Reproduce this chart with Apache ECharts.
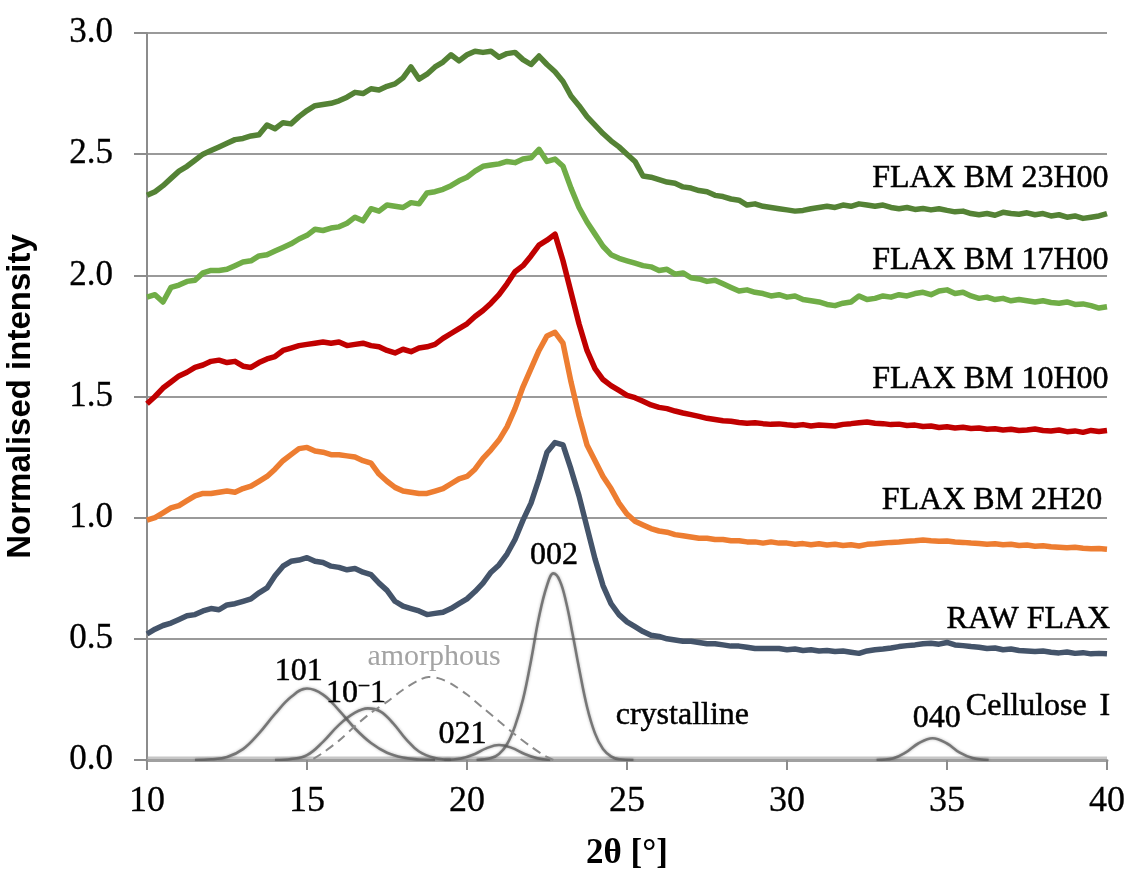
<!DOCTYPE html>
<html>
<head>
<meta charset="utf-8">
<script src="https://cdn.jsdelivr.net/npm/echarts@6/dist/echarts.min.js"></script>
<style>html,body{margin:0;padding:0;background:#fff;}#chart{width:1130px;height:869px;}</style>
</head>
<body>
<div id="chart"></div>
<script>
// ---- DATA ----
const twoTheta = [10,10.25,10.5,10.75,11,11.25,11.5,11.75,12,12.25,12.5,12.75,13,13.25,13.5,13.75,14,14.25,14.5,14.75,
15,15.25,15.5,15.75,16,16.25,16.5,16.75,17,17.25,17.5,17.75,18,18.25,18.5,18.75,19,19.25,19.5,19.75,
20,20.25,20.5,20.75,21,21.25,21.5,21.75,22,22.25,22.5,22.75,23,23.25,23.5,23.75,24,24.25,24.5,24.75,
25,25.25,25.5,25.75,26,26.25,26.5,26.75,27,27.25,27.5,27.75,28,28.25,28.5,28.75,29,29.25,29.5,29.75,
30,30.25,30.5,30.75,31,31.25,31.5,31.75,32,32.25,32.5,32.75,33,33.25,33.5,33.75,34,34.25,34.5,34.75,
35,35.25,35.5,35.75,36,36.25,36.5,36.75,37,37.25,37.5,37.75,38,38.25,38.5,38.75,39,39.25,39.5,39.75,40];

const rawFlax = [0.52,0.54,0.555,0.565,0.58,0.595,0.60,0.615,0.625,0.62,0.64,0.645,0.655,0.665,0.69,0.71,0.76,0.80,0.82,0.825,
0.835,0.82,0.815,0.80,0.795,0.785,0.79,0.775,0.765,0.73,0.70,0.655,0.635,0.625,0.615,0.60,0.605,0.61,0.625,0.645,
0.665,0.695,0.73,0.775,0.805,0.85,0.91,0.99,1.06,1.16,1.27,1.31,1.30,1.20,1.09,0.96,0.83,0.72,0.645,0.60,
0.57,0.55,0.53,0.515,0.51,0.50,0.495,0.49,0.49,0.485,0.48,0.48,0.475,0.47,0.47,0.465,0.46,0.46,0.46,0.46,
0.455,0.458,0.452,0.455,0.45,0.452,0.448,0.45,0.445,0.44,0.45,0.455,0.458,0.462,0.468,0.472,0.475,0.48,0.482,0.478,
0.485,0.475,0.472,0.468,0.465,0.46,0.462,0.455,0.458,0.452,0.45,0.448,0.45,0.445,0.442,0.446,0.44,0.443,0.438,0.44,0.438];

const bm2h20 = [0.99,1.00,1.02,1.04,1.05,1.07,1.09,1.10,1.10,1.105,1.11,1.105,1.12,1.13,1.15,1.17,1.20,1.235,1.26,1.285,
1.29,1.275,1.27,1.26,1.26,1.255,1.25,1.235,1.225,1.18,1.15,1.125,1.11,1.105,1.10,1.10,1.11,1.12,1.14,1.16,
1.17,1.20,1.245,1.28,1.32,1.375,1.45,1.54,1.615,1.69,1.75,1.765,1.72,1.56,1.42,1.30,1.235,1.17,1.12,1.06,
1.015,0.985,0.97,0.955,0.945,0.94,0.93,0.925,0.92,0.915,0.915,0.91,0.91,0.905,0.905,0.90,0.90,0.895,0.90,0.895,
0.895,0.89,0.893,0.888,0.892,0.887,0.89,0.885,0.888,0.883,0.89,0.892,0.895,0.898,0.90,0.903,0.905,0.908,0.905,0.903,
0.904,0.90,0.898,0.895,0.893,0.89,0.892,0.888,0.89,0.885,0.887,0.882,0.884,0.88,0.878,0.876,0.878,0.874,0.872,0.873,0.87];

const bm10h00 = [1.47,1.50,1.535,1.56,1.585,1.60,1.62,1.63,1.645,1.65,1.64,1.645,1.625,1.62,1.64,1.655,1.665,1.69,1.70,1.71,
1.715,1.72,1.725,1.72,1.725,1.71,1.715,1.72,1.71,1.705,1.69,1.68,1.695,1.685,1.70,1.705,1.715,1.74,1.76,1.78,
1.80,1.83,1.855,1.885,1.92,1.965,2.015,2.04,2.08,2.125,2.145,2.17,2.06,1.93,1.80,1.69,1.615,1.57,1.545,1.525,
1.505,1.495,1.48,1.465,1.455,1.45,1.44,1.432,1.425,1.418,1.41,1.405,1.40,1.398,1.393,1.39,1.392,1.388,1.385,1.387,
1.383,1.38,1.384,1.378,1.382,1.38,1.378,1.385,1.388,1.392,1.395,1.39,1.388,1.384,1.386,1.38,1.382,1.376,1.378,1.372,
1.375,1.37,1.373,1.368,1.37,1.365,1.367,1.362,1.365,1.36,1.362,1.366,1.36,1.358,1.362,1.355,1.358,1.352,1.36,1.356,1.36];

const bm17h00 = [1.91,1.92,1.89,1.95,1.96,1.975,1.98,2.01,2.02,2.02,2.025,2.04,2.055,2.06,2.08,2.085,2.10,2.115,2.13,2.15,
2.165,2.19,2.185,2.195,2.20,2.215,2.24,2.225,2.275,2.265,2.29,2.285,2.28,2.30,2.295,2.34,2.345,2.355,2.37,2.39,
2.405,2.43,2.45,2.455,2.46,2.47,2.465,2.48,2.485,2.52,2.47,2.48,2.45,2.36,2.28,2.22,2.17,2.12,2.085,2.07,
2.06,2.05,2.04,2.035,2.02,2.025,2.005,2.01,1.99,1.985,1.975,1.98,1.965,1.95,1.935,1.94,1.93,1.925,1.915,1.92,
1.91,1.915,1.90,1.895,1.89,1.88,1.875,1.885,1.89,1.915,1.90,1.905,1.915,1.91,1.92,1.915,1.925,1.93,1.92,1.935,
1.94,1.925,1.93,1.915,1.905,1.91,1.90,1.905,1.895,1.90,1.895,1.89,1.895,1.888,1.885,1.89,1.88,1.882,1.875,1.865,1.87];

const bm23h00 = [2.33,2.345,2.37,2.40,2.43,2.45,2.475,2.50,2.515,2.53,2.545,2.56,2.565,2.575,2.58,2.62,2.605,2.63,2.625,2.655,
2.68,2.70,2.705,2.71,2.72,2.735,2.755,2.75,2.77,2.765,2.78,2.79,2.815,2.86,2.81,2.83,2.86,2.88,2.91,2.885,
2.91,2.925,2.92,2.925,2.90,2.915,2.92,2.89,2.87,2.905,2.87,2.84,2.80,2.74,2.70,2.655,2.62,2.585,2.555,2.53,
2.50,2.47,2.41,2.405,2.395,2.385,2.38,2.365,2.36,2.35,2.345,2.33,2.325,2.315,2.31,2.29,2.295,2.285,2.28,2.275,
2.27,2.265,2.268,2.275,2.28,2.285,2.28,2.29,2.285,2.295,2.29,2.285,2.29,2.28,2.275,2.28,2.272,2.276,2.27,2.275,
2.268,2.262,2.265,2.255,2.25,2.255,2.248,2.26,2.255,2.252,2.258,2.25,2.255,2.245,2.25,2.24,2.245,2.235,2.24,2.245,2.255];

// fitted Cellulose I components: [2θ, intensity]
const peak101 = [[11.5,0],[12,0.003],[12.5,0.012],[13,0.045],[13.5,0.11],[14,0.19],[14.5,0.26],[15,0.295],[15.5,0.27],[16,0.205],[16.5,0.13],[17,0.07],[17.5,0.03],[18,0.01],[18.5,0.002],[19,0]];
const peak10m1 = [[14,0],[14.5,0.004],[15,0.02],[15.5,0.075],[16,0.145],[16.5,0.195],[16.9,0.213],[17.3,0.2],[17.7,0.15],[18.1,0.085],[18.5,0.035],[19,0.008],[19.5,0]];
const amorphous = [[15.2,0.005],[15.5,0.03],[16,0.08],[16.5,0.14],[17,0.195],[17.5,0.24],[18,0.29],[18.5,0.33],[18.8,0.343],[19.1,0.338],[19.5,0.315],[20,0.27],[20.5,0.215],[21,0.16],[21.5,0.105],[22,0.055],[22.4,0.02],[22.7,0]];
const peak021 = [[19.3,0],[19.8,0.006],[20.25,0.025],[20.6,0.048],[21,0.062],[21.4,0.05],[21.8,0.025],[22.2,0.007],[22.6,0]];
const peak002 = [[20.3,0],[20.75,0.008],[21,0.025],[21.25,0.065],[21.5,0.14],[21.75,0.25],[22,0.41],[22.25,0.59],[22.5,0.72],[22.7,0.77],[22.9,0.74],[23.1,0.65],[23.3,0.52],[23.5,0.38],[23.75,0.22],[24,0.11],[24.25,0.045],[24.5,0.015],[24.75,0.003],[25.2,0]];
const peak040 = [[32.8,0],[33.3,0.006],[33.7,0.03],[34.1,0.068],[34.55,0.09],[35,0.068],[35.4,0.03],[35.8,0.008],[36.3,0]];
const fitBaseline = [[10,0.008],[40,0.008]];

const xTicks = [10,15,20,25,30,35,40];
const yTicks = ['0.0','0.5','1.0','1.5','2.0','2.5','3.0'];

const curveNames = ['RAW FLAX','FLAX BM 2H20','FLAX BM 10H00','FLAX BM 17H00','FLAX BM 23H00'];
const curveValues = [rawFlax, bm2h20, bm10h00, bm17h00, bm23h00];
const curveColors = ['#44546A','#ED7D31','#C00000','#70AD47','#548235'];

// text annotations [2θ, intensity, text]
const curveLabels = [[40.1,0.58,'RAW FLAX'],[39.85,1.07,'FLAX BM 2H20'],[40.05,1.57,'FLAX BM 10H00'],[40.05,2.06,'FLAX BM 17H00'],[40.05,2.40,'FLAX BM 23H00'],[40.1,0.22,'Cellulose\u2009\u2009I']];
const peakLabels = [[14.74,0.364,'101'],[16.53,0.275,'{a|10}{m|\u2013}{a|1}'],[22.72,0.845,'002'],[19.86,0.103,'021'],[26.73,0.185,'crystalline'],[34.68,0.172,'040']];
const amorphousLabel = [[18.97,0.426,'amorphous']];

// ---- CHART ----
const serif = "'Liberation Serif','Times New Roman',serif";
const chart = echarts.init(document.getElementById('chart'));
const series = [];
const txt = {color:'#000', opacity:1, fontFamily:serif, fontSize:32, textBorderColor:'#000', textBorderWidth:0.5};
series.push({type:'line', data:fitBaseline, showSymbol:false, silent:true, z:1,
  lineStyle:{color:'rgba(160,160,160,0.6)', width:3}});
const compStyle = {color:'rgba(95,95,95,0.8)', width:2.6, shadowBlur:3, shadowColor:'rgba(0,0,0,0.35)'};
[peak101, peak10m1, peak021, peak002, peak040].forEach(p => series.push({
  type:'line', data:p, smooth:0.4, showSymbol:false, silent:true, z:2,
  lineStyle:compStyle
}));
series.push({type:'line', data:amorphous, smooth:0.3, showSymbol:false, silent:true, z:2,
  lineStyle:{color:'#8a8a8a', width:2, type:[9,6]}});
curveValues.forEach((vals,i) => series.push({
  name:curveNames[i], type:'line', showSymbol:false, z:3,
  data: twoTheta.map((x,j)=>[x, vals[j]]),
  lineStyle:{color:curveColors[i], width:5.5, join:'round'}
}));
series.push({type:'scatter', symbolSize:0, silent:true, z:5, clip:false,
  itemStyle:{opacity:1},
  data: curveLabels.map(d=>({value:[d[0],d[1]], name:d[2]})),
  label:Object.assign({show:true, position:'left', distance:0, formatter:p=>p.name}, txt)});
series.push({type:'scatter', symbolSize:0, silent:true, z:5, clip:false,
  itemStyle:{opacity:1},
  data: peakLabels.map(d=>({value:[d[0],d[1]], name:d[2]})),
  label:Object.assign({show:true, position:'inside', formatter:p=>p.name,
    rich:{a:Object.assign({}, txt), m:Object.assign({}, txt, {fontSize:20, padding:[0,1,16,1]})}}, txt)});
series.push({type:'scatter', symbolSize:0, silent:true, z:5, clip:false,
  data: amorphousLabel.map(d=>({value:[d[0],d[1]], name:d[2]})),
  label:{show:true, position:'inside', formatter:p=>p.name, color:'#8c8c8c', fontFamily:serif, fontSize:30}});

chart.setOption({
  animation:false,
  backgroundColor:'#fff',
  grid:{left:147, right:23, top:33, bottom:109, containLabel:false, outerBoundsMode:'none'},
  xAxis:{
    type:'value', min:10, max:40, interval:5,
    name:'2\u03B8 [\u00B0]', nameLocation:'middle', nameGap:76,
    nameTextStyle:{fontFamily:serif, fontWeight:'bold', fontSize:35, color:'#000'},
    axisLine:{show:true, onZero:false, lineStyle:{color:'#a0a0a0', width:3}},
    axisTick:{show:true, length:10, inside:false, lineStyle:{color:'#8c8c8c', width:2}},
    axisLabel:{fontFamily:serif, fontSize:36, color:'#000', margin:24, textBorderColor:'#000', textBorderWidth:0.3,
      formatter:v=> xTicks.includes(v) ? String(v) : ''},
    splitLine:{show:false}
  },
  yAxis:{
    type:'value', min:0, max:3, interval:0.5,
    name:'Normalised intensity', nameLocation:'middle', nameGap:110, nameRotate:90,
    nameTextStyle:{fontFamily:"'Liberation Sans',Arial,sans-serif", fontWeight:'bold', fontSize:33, color:'#000'},
    axisLine:{show:true, lineStyle:{color:'#8c8c8c', width:2}},
    axisTick:{show:true, length:13, lineStyle:{color:'#8c8c8c', width:2}},
    axisLabel:{fontFamily:serif, fontSize:35, color:'#000', margin:34, textBorderColor:'#000', textBorderWidth:0.3,
      formatter:v=> yTicks[Math.round(v/0.5)]},
    splitLine:{show:true, lineStyle:{color:'#9a9a9a', width:2}}
  },
  series:series
});
</script>
</body>
</html>
